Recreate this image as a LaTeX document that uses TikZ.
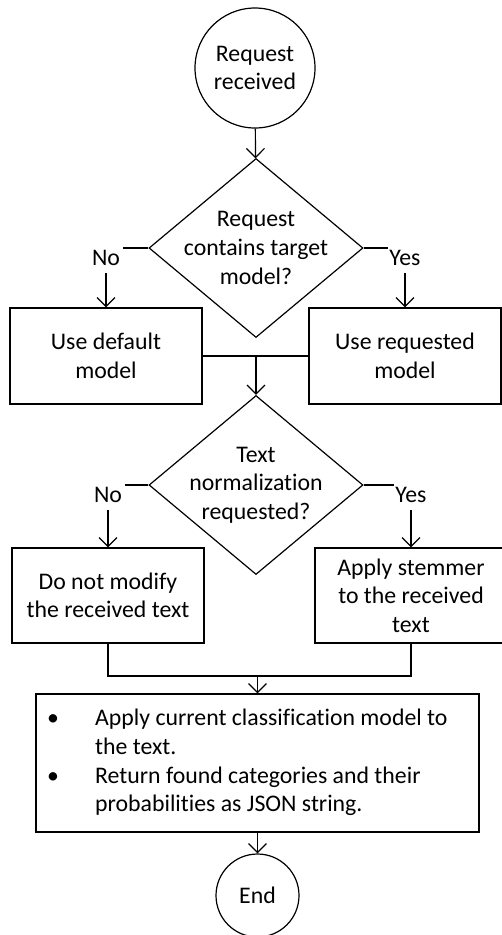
\documentclass[tikz,border=0pt]{standalone}
\usepackage{fontspec}
\setmainfont{Carlito}[Ligatures=CommonOff]
\usetikzlibrary{shapes.geometric,arrows.meta,calc}
\begin{document}
\begin{tikzpicture}[x=1pt,y=-1pt,
  every node/.style={font=\fontsize{23.8}{28.6}\selectfont},
  ln/.style={line width=1.2pt},
  arr/.style={ln,-{Straight Barb[length=9pt,width=18pt,line width=1.2pt]}},
  circ/.style={ln,draw,circle,inner sep=0pt,align=center},
  box/.style={ln,draw,rectangle,minimum width=192pt,minimum height=96pt,align=center,inner sep=0pt},
  dia/.style={ln,draw,diamond,minimum width=214pt,minimum height=179pt,inner sep=0pt},
  lab/.style={fill=white,inner sep=0pt,minimum width=34pt,minimum height=30pt,yshift=-9.5pt}
]
\useasboundingbox (0,0) rectangle (502,935);
\node[circ,minimum size=120pt] (start) at (255,68) {Request\\received};
\node[dia] (d1) at (256,248) {};
\node[align=center] (t1) at (d1.center) {Request\\contains target\\model?};
\node[box] (b1) at (106,356) {Use default\\model};
\node[box] (b2) at (405,356) {Use requested\\model};
\node[dia] (d2) at (256,485) {};
\node[align=center] (t2) at (d2.center) {Text\\normalization\\requested?};
\node[box,minimum height=95pt] (b3) at (108,595.5) {Do not modify\\the received text};
\node[box,minimum height=95pt] (b4) at (411,595.5) {Apply stemmer\\to the received\\text};
\node[ln,draw,minimum width=443pt,minimum height=138pt,inner sep=0pt] (b5) at (257.5,763) {};
\node[anchor=west,inner sep=0pt] (t5) at (47,763) {\begin{tabular}{@{}p{48pt}@{}l@{}}
\textbullet & Apply current classification model to\\
 & the text.\\
\textbullet & Return found categories and their\\
 & probabilities as JSON string.
\end{tabular}};
\node[circ,minimum size=83pt] (end) at (257.5,895.5) {End};

\draw[arr] (start) -- (d1);
\draw[arr] (d1.west) -| node[lab,pos=0.5]{No} (b1.north);
\draw[arr] (d1.east) -| node[lab,pos=0.5]{Yes} (b2.north);
\draw[ln] (b1.east) -- (b2.west);
\draw[arr] (b1.east -| d2.north) -- (d2.north);
\draw[arr] (d2.west) -| node[lab,pos=0.5]{No} (b3.north);
\draw[arr] (d2.east) -| node[lab,pos=0.5]{Yes} (b4.north);
\coordinate (m2) at (257.5,676);
\draw[ln] (b3.south) |- (m2) -| (b4.south);
\draw[arr] (m2) -- (b5.north);
\draw[arr] (b5.south) -- (end.north);
\end{tikzpicture}
\end{document}
